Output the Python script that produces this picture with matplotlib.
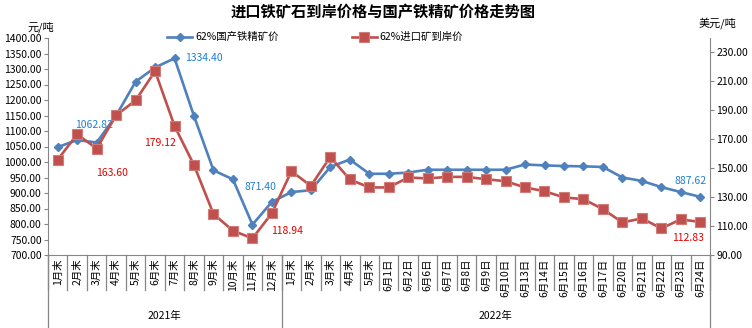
import numpy as np
import matplotlib
matplotlib.use('Agg')
import matplotlib.pyplot as plt
from matplotlib.lines import Line2D

plt.rcParams['font.family'] = ['Noto Sans CJK SC', 'DejaVu Sans']

cats_2021 = ['1月末', '2月末', '3月末', '4月末', '5月末', '6月末', '7月末', '8月末',
             '9月末', '10月末', '11月末', '12月末']
cats_2022 = ['1月末', '2月末', '3月末', '4月末', '5月末', '6月1日', '6月2日', '6月6日',
             '6月7日', '6月8日', '6月9日', '6月10日', '6月13日', '6月14日', '6月15日',
             '6月16日', '6月17日', '6月20日', '6月21日', '6月22日', '6月23日', '6月24日']
cats = cats_2021 + cats_2022

# 62%国产铁精矿价 (元/吨)
domestic = [1048, 1071, 1062.82, 1150, 1259, 1305, 1334.40, 1148, 973, 944, 798, 871.40,
            903, 909, 984, 1008, 962, 962, 966, 975, 975, 975, 975, 975,
            992, 989, 987, 986, 984, 950, 939, 919, 903, 887.62]
# 62%进口矿到岸价 (美元/吨)
imported = [156, 173.4, 163.60, 186.6, 196.9, 217.1, 179.12, 152.1, 118.3, 106.8, 101.5, 118.94,
            147.9, 137.8, 157.8, 142.2, 136.7, 136.7, 143.6, 142.9, 144, 144, 142.4, 141,
            136.7, 134.1, 129.8, 128.6, 121.7, 112.5, 115.3, 108.4, 114.6, 112.83]

blue = '#4F81BD'
red = '#C0504D'
axis_gray = '#868686'

fig = plt.figure(figsize=(7.52, 3.28), dpi=100)
ax = fig.add_axes([48/752, 1-255/328, 662/752, 217/328])
ax2 = ax.twinx()

x = np.arange(len(cats))
ax.plot(x, domestic, color=blue, lw=1.9, marker='D', ms=4.5, mec=blue)
ax2.plot(x, imported, color=red, lw=1.9, marker='s', ms=6.5, mfc=red, mec='#D27C79', mew=0.8)

ax.set_xlim(-0.5, len(cats)-0.5)
ax.set_ylim(700, 1400)
ax.set_yticks(np.arange(700, 1401, 50))
ax.set_yticklabels(['%.2f' % v for v in np.arange(700, 1401, 50)], fontsize=7.5)
ax2.set_ylim(90, 240)
ax2.set_yticks(np.arange(90, 231, 20))
ax2.set_yticklabels(['%.2f' % v for v in np.arange(90, 231, 20)], fontsize=7.5)
ax.set_xticks([])

for a in (ax, ax2):
    a.spines['top'].set_visible(False)
    for s in ('left', 'right', 'bottom'):
        a.spines[s].set_color(axis_gray)
    a.tick_params(axis='y', color=axis_gray, length=3, pad=1.5)
ax.spines['right'].set_visible(False)
ax2.spines['left'].set_visible(False)
ax2.spines['bottom'].set_visible(False)

# two-level category axis
tr = ax.get_xaxis_transform()
for k in range(len(cats)+1):
    ax.plot([k-0.5, k-0.5], [0, -0.161], transform=tr, color=axis_gray, lw=0.9, clip_on=False)
for k in [0, len(cats_2021), len(cats)]:
    ax.plot([k-0.5, k-0.5], [0, -0.34], transform=tr, color=axis_gray, lw=0.9, clip_on=False)
for i, c in enumerate(cats):
    ax.text(i, -0.017, c, transform=tr, rotation=90, ha='center', va='top', fontsize=7.5)
ax.text((len(cats_2021)-1)/2, -0.281, '2021年', transform=tr, ha='center', va='center', fontsize=7.5)
ax.text(len(cats_2021) + (len(cats_2022)-1)/2, -0.281, '2022年', transform=tr,
        ha='center', va='center', fontsize=7.5)

# data labels
lab_blue = '#1F7FD0'
lab_red = '#E00000'
for i, dx, dy in [(2, -3, 18), (6, 29, 0), (11, -11, 15), (33, -10, 16)]:
    ax.annotate('%.2f' % domestic[i], (i, domestic[i]), xytext=(dx, dy), textcoords='offset pixels',
                ha='center', va='center', fontsize=7.5, color=lab_blue)
for i, dx, dy in [(2, 15, -24), (6, -15, -17), (11, 15, -18), (33, -12, -16)]:
    ax2.annotate('%.2f' % imported[i], (i, imported[i]), xytext=(dx, dy), textcoords='offset pixels',
                 ha='center', va='center', fontsize=7.5, color=lab_red)

handles = [Line2D([], [], color=blue, lw=1.9, marker='D', ms=4.5),
           Line2D([], [], color=red, lw=1.9, marker='s', ms=6.5, mec='#D27C79', mew=0.8)]
fig.legend(handles, ['62%国产铁精矿价', '62%进口矿到岸价'], loc='center', bbox_to_anchor=(0.419, 0.887),
           ncol=2, frameon=False, fontsize=7.5, handlelength=2.4, columnspacing=7.0, handletextpad=0.3)

fig.text(383/752, 0.963, '进口铁矿石到岸价格与国产铁精矿价格走势图', ha='center', va='center',
         fontsize=11, fontweight='bold')
fig.text(41/752, 1-27.5/328, '元/吨', ha='center', va='center', fontsize=8)
fig.text(717/752, 1-23/328, '美元/吨', ha='center', va='center', fontsize=8)

fig.savefig('out.png', dpi=100)
